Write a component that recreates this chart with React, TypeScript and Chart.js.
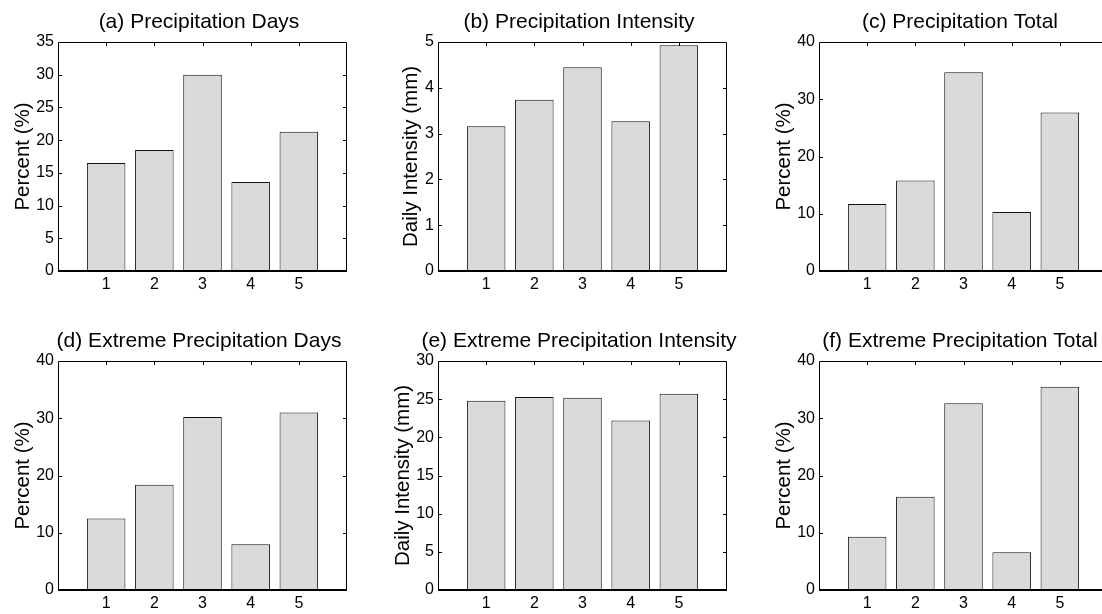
import React, { useEffect, useRef } from 'react';
import { Chart, registerables } from 'chart.js';

Chart.register(...registerables);

// ---------------- data ----------------
const categories = [1, 2, 3, 4, 5];
const xTickLabels = ['1', '2', '3', '4', '5'];

const precipDays = [16.5, 18.5, 30.0, 13.6, 21.3];
const precipIntensity = [3.16, 3.74, 4.45, 3.27, 4.93];
const precipTotal = [11.7, 15.8, 34.7, 10.3, 27.7];
const extremeDays = [12.5, 18.4, 30.2, 8.0, 31.0];
const extremeIntensity = [24.8, 25.3, 25.2, 22.2, 25.7];
const extremeTotal = [9.3, 16.3, 32.6, 6.6, 35.5];

const panelTitles = [
  '(a) Precipitation Days',
  '(b) Precipitation Intensity',
  '(c) Precipitation Total',
  '(d) Extreme Precipitation Days',
  '(e) Extreme Precipitation Intensity',
  '(f) Extreme Precipitation Total',
];
const yAxisLabels = [
  'Percent (%)',
  'Daily Intensity (mm)',
  'Percent (%)',
  'Percent (%)',
  'Daily Intensity (mm)',
  'Percent (%)',
];
const yMaxes = [35, 5, 40, 40, 30, 40];
const ySteps = [5, 1, 10, 10, 5, 10];
const seriesList = [precipDays, precipIntensity, precipTotal, extremeDays, extremeIntensity, extremeTotal];

// ---------------- layout ----------------
const FONT = '"Liberation Sans", Arial, Helvetica, sans-serif';
const PLOT_LEFTS = [58, 438, 819];
const ROW_TOPS = [0, 319];
const Y_AXIS_W = 60;
const PLOT_W = 289;
const PLOT_TOP = 42;
const CANVAS_W = 402;
const CANVAS_H = 301;
const labelPads = [12.7, 21.4, 12.7, 12.7, 12.7, 12.7];

function makeFramePlugin(title: string) {
  return {
    id: 'frame',
    afterDatasetsDraw(chart: any) {
      const { ctx, chartArea } = chart;
      const left = Math.round(chartArea.left);
      const right = Math.round(chartArea.right);
      const top = Math.round(chartArea.top);
      const bottom = Math.round(chartArea.bottom);
      const xs = chart.scales.x;
      const ys = chart.scales.y;
      const tl = 4;
      ctx.save();
      ctx.strokeStyle = '#000';
      ctx.lineWidth = 1;
      ctx.beginPath();
      ctx.moveTo(left + 0.5, bottom);
      ctx.lineTo(left + 0.5, top + 0.5);
      ctx.lineTo(right - 0.5, top + 0.5);
      ctx.lineTo(right - 0.5, bottom);
      ys.ticks.forEach((t: any) => {
        if (t.value <= ys.min || t.value >= ys.max) return;
        const py = Math.round(ys.getPixelForValue(t.value)) + 0.5;
        ctx.moveTo(left, py);
        ctx.lineTo(left + tl, py);
        ctx.moveTo(right, py);
        ctx.lineTo(right - tl, py);
      });
      xs.ticks.forEach((t: any) => {
        if (t.value <= xs.min || t.value >= xs.max) return;
        const px = Math.round(xs.getPixelForValue(t.value)) + 0.5;
        ctx.moveTo(px, top);
        ctx.lineTo(px, top + tl);
      });
      ctx.stroke();
      ctx.lineWidth = 2;
      ctx.beginPath();
      ctx.moveTo(left, bottom);
      ctx.lineTo(right, bottom);
      ctx.stroke();
      // panel title
      ctx.fillStyle = '#000';
      ctx.font = `21px ${FONT}`;
      ctx.textAlign = 'center';
      ctx.textBaseline = 'alphabetic';
      ctx.fillText(title, (left + right) / 2 - 3.5, top - 14);
      ctx.restore();
    },
  };
}

function Panel({ idx }: { idx: number }) {
  const ref = useRef<HTMLCanvasElement | null>(null);
  const col = idx % 3;
  const row = Math.floor(idx / 3);
  useEffect(() => {
    if (!ref.current) return;
    const values = seriesList[idx];
    const chart = new Chart(ref.current, {
      type: 'bar',
      data: {
        datasets: [
          {
            data: categories.map((c, i) => ({ x: c, y: values[i] })),
            backgroundColor: '#dadada',
            borderColor: '#111',
            borderWidth: 1,
            barPercentage: 0.8,
            categoryPercentage: 1,
          } as any,
        ],
      },
      options: {
        animation: false,
        responsive: false,
        maintainAspectRatio: false,
        devicePixelRatio: 1,
        layout: { padding: { left: 0, top: PLOT_TOP, right: CANVAS_W - Y_AXIS_W - PLOT_W, bottom: 0 } },
        plugins: {
          legend: { display: false },
          tooltip: { enabled: false },
          title: { display: false },
        },
        scales: {
          x: {
            type: 'linear',
            min: 0,
            max: 6,
            offset: false,
            grid: { display: false, drawTicks: false },
            border: { display: false },
            ticks: {
              stepSize: 1,
              autoSkip: false,
              maxRotation: 0,
              padding: 4,
              color: '#000',
              font: { family: FONT, size: 16 },
              callback: (v: any) => {
                const i = categories.indexOf(Number(v));
                return i >= 0 ? xTickLabels[i] : '';
              },
            },
            afterFit: (s: any) => {
              s.height = CANVAS_H - 271;
            },
          },
          y: {
            min: 0,
            max: yMaxes[idx],
            grid: { display: false, drawTicks: false },
            border: { display: false },
            ticks: {
              stepSize: ySteps[idx],
              padding: 4,
              color: '#000',
              font: { family: FONT, size: 16 },
            },
            title: {
              display: true,
              text: yAxisLabels[idx],
              color: '#000',
              font: { family: FONT, size: 20.5 },
              padding: { top: labelPads[idx], bottom: 0 },
            },
            afterFit: (s: any) => {
              s.width = Y_AXIS_W;
            },
          },
        },
      } as any,
      plugins: [makeFramePlugin(panelTitles[idx])],
    });
    return () => chart.destroy();
  }, [idx]);
  return (
    <canvas
      ref={ref}
      width={CANVAS_W}
      height={CANVAS_H}
      style={{
        position: 'absolute',
        left: PLOT_LEFTS[col] - Y_AXIS_W,
        top: ROW_TOPS[row],
        width: CANVAS_W,
        height: CANVAS_H,
      }}
    />
  );
}

export default function App() {
  return (
    <div
      style={{
        position: 'absolute',
        left: 0,
        top: 0,
        width: 1102,
        height: 614,
        overflow: 'hidden',
        background: '#fff',
      }}
    >
      {[0, 1, 2, 3, 4, 5].map((i) => (
        <Panel key={i} idx={i} />
      ))}
    </div>
  );
}
